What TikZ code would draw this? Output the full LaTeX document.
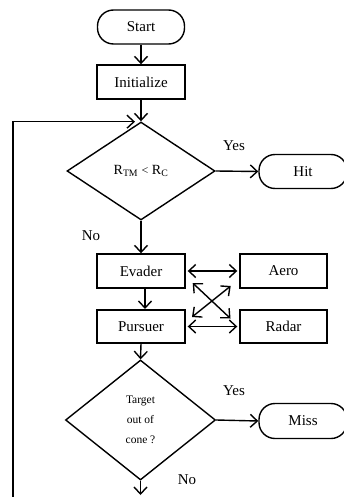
\documentclass[tikz,border=0pt]{standalone}
\usepackage{fontspec}
\setmainfont{Liberation Serif}
\usetikzlibrary{shapes.geometric,arrows.meta}
\tikzset{
  base/.style={draw, line width=1.4pt, inner sep=0pt, font=\fontsize{15}{17}\selectfont},
  proc/.style={base, rectangle, minimum width=88pt, minimum height=34pt},
  term/.style={base, rectangle, rounded corners=16pt, minimum width=87pt, minimum height=34pt},
  decide/.style={base, diamond, aspect=1.5, minimum width=148pt, minimum height=98pt},
  tip/.style={Straight Barb[length=7pt,width=13pt,line width=1.4pt]},
  conn/.style={line width=1.4pt, -{Straight Barb[length=7pt,width=13pt,line width=1.4pt]}},
  bconn/.style={line width=1.4pt, {Straight Barb[length=7pt,width=13pt,line width=1.4pt]}-{Straight Barb[length=7pt,width=13pt,line width=1.4pt]}},
  lbl/.style={font=\fontsize{15}{17}\selectfont, inner sep=0pt}
}
\begin{document}
\begin{tikzpicture}[x=1pt,y=-1pt]
\useasboundingbox (0,0) rectangle (344,497);
\node[term] (start) at (141,27) {Start};
\node[proc] (init) at (141,82) {Initialize};
\node[decide, font=\fontsize{14}{16}\selectfont] (d1) at (141,171) {R\textsubscript{TM} {\fontsize{12}{13}\selectfont<} R\textsubscript{C}};
\node[term, minimum width=88pt] (hit) at (303,171.5) {Hit};
\node[proc] (evader) at (141,271) {Evader};
\node[proc, minimum width=87pt] (aero) at (283.5,271) {Aero};
\node[proc, minimum height=33pt] (pursuer) at (141,326.5) {Pursuer};
\node[proc, minimum width=87pt, minimum height=33pt] (radar) at (283.5,326.5) {Radar};
\node[decide, minimum width=150pt, minimum height=120pt, align=center, font=\fontsize{11.5}{20}\selectfont] (d2) at (140.5,420) {Target\\out of\\cone ?};
\node[term, minimum width=88pt, minimum height=35pt] (miss) at (303,421) {Miss};
\node[lbl] (yes1) at (234,146) {Yes};
\node[lbl] (no1) at (91,236) {No};
\node[lbl] (yes2) at (234,391) {Yes};
\node[lbl] (no2) at (187,480) {No};
\coordinate (endc) at (140.5,495);
\coordinate (loopS) at (13,497);
\coordinate (loopE) at (135,121.7);
\coordinate (evS) at (145,288);
\coordinate (puN) at (145,309);
\coordinate (c1a) at (192.7,283);
\coordinate (c1b) at (230.5,318.5);
\coordinate (c2a) at (192,317);
\coordinate (c2b) at (230.7,286);
\draw[conn] (start) -- (init);
\draw[conn] (init) -- (d1.north);
\draw[conn] (d1.east) -- (hit.west);
\draw[conn] (d1.south) -- (evader.north);
\draw[conn] (evS) -- (puN);
\draw[conn] (pursuer.south) -- (d2.north);
\draw[conn] (d2.east) -- (miss.west);
\draw[conn] (d2.south) -- (endc);
\draw[conn] (loopS) |- (loopE);
\draw[bconn] ([xshift=2pt]evader.east) -- ([xshift=-2pt]aero.west);
\draw[bconn] ([xshift=2pt]pursuer.east) -- ([xshift=-2pt]radar.west);
\draw[bconn] (c1a) -- (c1b);
\draw[bconn] (c2a) -- (c2b);
\end{tikzpicture}
\end{document}
